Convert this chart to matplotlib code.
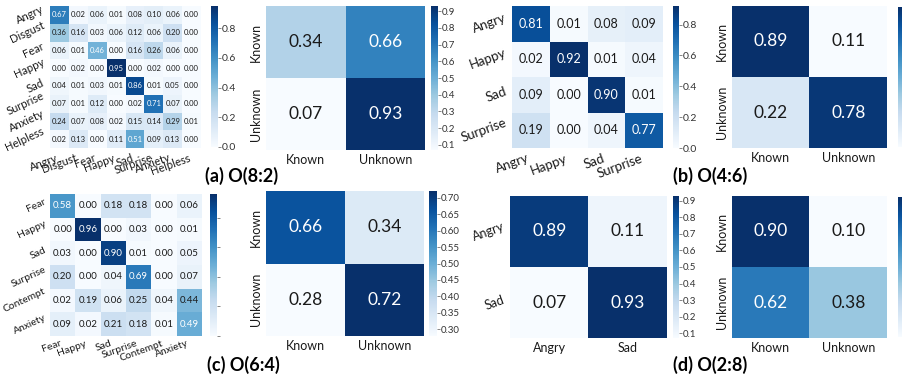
import matplotlib.pyplot as plt
import numpy as np
from matplotlib import colors, transforms

W, H = 903, 378
plt.rcParams['font.family'] = ['Lato', 'DejaVu Sans']

emo8 = ['Angry', 'Disgust', 'Fear', 'Happy', 'Sad', 'Surprise', 'Anxiety', 'Helpless']
emo4 = ['Angry', 'Happy', 'Sad', 'Surprise']
emo6 = ['Fear', 'Happy', 'Sad', 'Surprise', 'Contempt', 'Anxiety']
emo2 = ['Angry', 'Sad']
ku = ['Known', 'Unknown']

cm_a = [[0.67, 0.02, 0.06, 0.01, 0.08, 0.10, 0.06, 0.00],
        [0.36, 0.16, 0.03, 0.06, 0.12, 0.06, 0.20, 0.00],
        [0.06, 0.01, 0.46, 0.00, 0.16, 0.26, 0.06, 0.00],
        [0.00, 0.02, 0.00, 0.95, 0.00, 0.02, 0.00, 0.00],
        [0.04, 0.01, 0.03, 0.01, 0.86, 0.01, 0.05, 0.00],
        [0.07, 0.01, 0.12, 0.00, 0.02, 0.71, 0.07, 0.00],
        [0.24, 0.07, 0.08, 0.02, 0.15, 0.14, 0.29, 0.01],
        [0.02, 0.13, 0.00, 0.11, 0.51, 0.09, 0.13, 0.00]]
ku_a = [[0.34, 0.66], [0.07, 0.93]]

cm_b = [[0.81, 0.01, 0.08, 0.09],
        [0.02, 0.92, 0.01, 0.04],
        [0.09, 0.00, 0.90, 0.01],
        [0.19, 0.00, 0.04, 0.77]]
ku_b = [[0.89, 0.11], [0.22, 0.78]]

cm_c = [[0.58, 0.00, 0.18, 0.18, 0.00, 0.06],
        [0.00, 0.96, 0.00, 0.03, 0.00, 0.01],
        [0.03, 0.00, 0.90, 0.01, 0.00, 0.05],
        [0.20, 0.00, 0.04, 0.69, 0.00, 0.07],
        [0.02, 0.19, 0.06, 0.25, 0.04, 0.44],
        [0.09, 0.02, 0.21, 0.18, 0.01, 0.49]]
ku_c = [[0.66, 0.34], [0.28, 0.72]]

cm_d = [[0.89, 0.11], [0.07, 0.93]]
ku_d = [[0.90, 0.10], [0.62, 0.38]]

fig = plt.figure(figsize=(W / 100, H / 100), dpi=100)
cmap = plt.get_cmap('Blues')


def px_axes(x0, y0, x1, y1):
    return fig.add_axes([x0 / W, 1 - y1 / H, (x1 - x0) / W, (y1 - y0) / H])


def text_color(rgba):
    rgb = np.array(rgba[:3])
    lin = np.where(rgb <= 0.03928, rgb / 12.92, ((rgb + 0.055) / 1.055) ** 2.4)
    lum = 0.2126 * lin[0] + 0.7152 * lin[1] + 0.0722 * lin[2]
    return '#1a1a1a' if lum > 0.408 else 'white'


def heatmap(box, cbox, data, labels, annot, tick, cticks, cfmt, csize=7,
            xrot=0, yrot=90, xshift=0, pad=3, vmin=None, vmax=None):
    data = np.asarray(data)
    n = len(labels)
    ax = px_axes(*box)
    norm = colors.Normalize(data.min() if vmin is None else vmin,
                            data.max() if vmax is None else vmax)
    mesh = ax.pcolormesh(data, cmap=cmap, norm=norm)
    ax.set_xlim(0, n)
    ax.set_ylim(n, 0)
    for i in range(n):
        for j in range(n):
            v = data[i, j]
            ax.text(j + 0.5, i + 0.5, f'{v:.2f}', ha='center', va='center',
                    fontsize=annot, color=text_color(cmap(norm(v))))
    ax.set_xticks(np.arange(n) + 0.5)
    ax.set_yticks(np.arange(n) + 0.5)
    if xrot:
        ax.set_xticklabels(labels, rotation=xrot, ha='right', fontsize=tick)
        off = transforms.ScaledTranslation(xshift / 100, 0, fig.dpi_scale_trans)
        for lab in ax.get_xticklabels():
            lab.set_transform(lab.get_transform() + off)
    else:
        ax.set_xticklabels(labels, fontsize=tick)
    if yrot == 90:
        ax.set_yticklabels(labels, rotation=90, va='center', fontsize=tick)
    else:
        ax.set_yticklabels(labels, rotation=yrot, ha='right', va='center',
                           fontsize=tick)
    ax.tick_params(length=0, pad=pad, colors='#1a1a1a')
    for s in ax.spines.values():
        s.set_visible(False)

    cax = px_axes(*cbox)
    cb = fig.colorbar(mesh, cax=cax)
    cb.outline.set_visible(False)
    cb.set_ticks(cticks)
    if cfmt:
        cb.set_ticklabels([cfmt.format(t) for t in cticks])
    else:
        cb.set_ticklabels([''] * len(cticks))
    cax.tick_params(length=2, width=0.5, pad=1, labelsize=csize,
                    colors='#555555', labelcolor='#333333')
    return ax


# (a) O(8:2)
heatmap((50, 6, 201, 148), (211, 6, 218, 147), cm_a, emo8, 5.5, 8,
        [0, 0.2, 0.4, 0.6, 0.8], '{:.1f}', 7.5, xrot=20, yrot=25, xshift=5)
heatmap((266, 6, 425, 150), (431, 6, 438, 150), ku_a, ku, 12.5, 9,
        np.arange(0.1, 0.95, 0.1), '{:.1f}')

# (b) O(4:6)
heatmap((512, 6, 663, 148), (673, 6, 679, 148), cm_b, emo4, 9, 9.5,
        [0, 0.2, 0.4, 0.6, 0.8], '{:.1f}', 7.5, xrot=20, yrot=20, xshift=4)
heatmap((732, 6, 887, 148), (898, 7, 906, 147), ku_b, ku, 12.5, 9,
        [0.2, 0.4, 0.6, 0.8], None, vmin=0.11, vmax=0.80)

# (c) O(6:4)
heatmap((50, 194, 202, 336), (210, 194, 217, 336), cm_c, emo6, 7, 7.5,
        [0, 0.2, 0.4, 0.6, 0.8], None, xrot=20, yrot=25, xshift=5, pad=2)
heatmap((266, 191, 424, 336), (429, 191, 437, 336), ku_c, ku, 12.5, 9,
        np.arange(0.30, 0.71, 0.05), '{:.2f}')

# (d) O(2:8)
heatmap((510, 196, 667, 338), (673, 196, 679, 338), cm_d, emo2, 12.5, 9,
        np.arange(0.1, 0.95, 0.1), '{:.1f}', yrot=20)
heatmap((732, 196, 887, 338), (898, 197, 906, 337), ku_d, ku, 12.5, 9,
        [0.2, 0.4, 0.6, 0.8], None, vmin=0.10, vmax=0.82)

for x, y, s in [(205, 176, '(a) O(8:2)'), (673, 176, '(b) O(4:6)'),
                (207, 365, '(c) O(6:4)'), (673, 365, '(d) O(2:8)')]:
    fig.text(x / W, 1 - y / H, s, fontsize=13, fontweight='bold',
             va='center', ha='left', color='black')

fig.savefig('out.png', dpi=100)
